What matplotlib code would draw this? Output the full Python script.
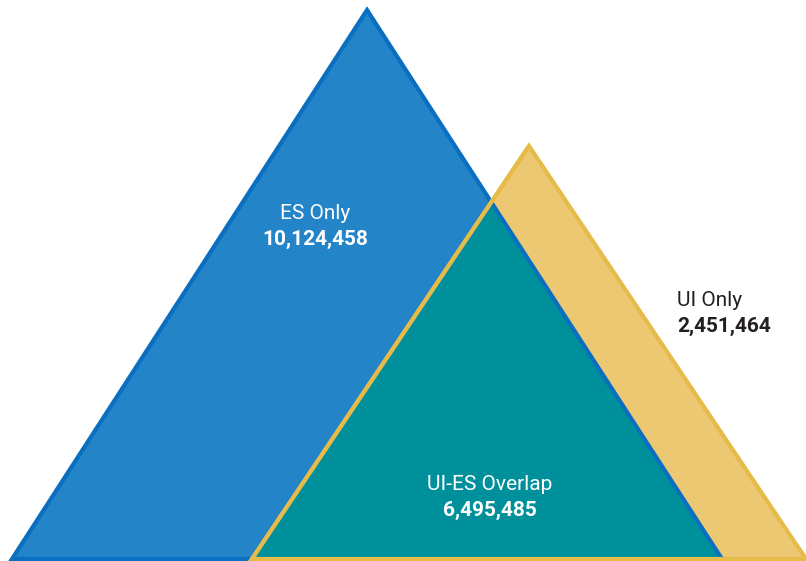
import matplotlib
matplotlib.use("Agg")
import matplotlib.pyplot as plt
from matplotlib.patches import Polygon
from matplotlib import font_manager

# Data
categories = ["ES Only", "UI Only", "UI-ES Overlap"]
values = [10124458, 2451464, 6495485]

# Geometry (pixel space of the 806x561 canvas)
blue_tri = [(12, 559), (367, 10), (722, 559)]
gold_tri = [(252, 559), (529, 146), (806, 559)]

BLUE_FILL = "#2484c8"
BLUE_EDGE = "#0a6fc0"
GOLD_FILL = "#ecc872"
GOLD_EDGE = "#e6bb4a"
TEAL_FILL = "#00909c"

names = [f.name for f in font_manager.fontManager.ttflist]
fam = "Liberation Sans Narrow" if "Liberation Sans Narrow" in names else "Roboto"

def intersect(p1, p2, p3, p4):
    x1, y1 = p1; x2, y2 = p2; x3, y3 = p3; x4, y4 = p4
    d = (x1 - x2) * (y3 - y4) - (y1 - y2) * (x3 - x4)
    t = ((x1 - x3) * (y3 - y4) - (y1 - y3) * (x3 - x4)) / d
    return (x1 + t * (x2 - x1), y1 + t * (y2 - y1))

cross = intersect(blue_tri[1], blue_tri[2], gold_tri[0], gold_tri[1])
teal_tri = [gold_tri[0], cross, blue_tri[2]]

fig = plt.figure(figsize=(8.06, 5.61), dpi=100)
ax = fig.add_axes([0, 0, 1, 1])
ax.set_xlim(0, 806)
ax.set_ylim(561, 0)
ax.axis("off")

lw = 3.0
ax.add_patch(Polygon(blue_tri, closed=True, facecolor=BLUE_FILL, edgecolor=BLUE_EDGE,
                     linewidth=lw, joinstyle="miter", zorder=1))
ax.add_patch(Polygon(gold_tri, closed=True, facecolor=GOLD_FILL, edgecolor=GOLD_EDGE,
                     linewidth=lw, joinstyle="miter", zorder=2))
ax.add_patch(Polygon(teal_tri, closed=True, facecolor=TEAL_FILL, edgecolor="none", zorder=3))
# blue right edge over teal
ax.plot([cross[0], blue_tri[2][0]], [cross[1], blue_tri[2][1]], color=BLUE_EDGE,
        linewidth=lw, solid_capstyle="butt", zorder=4)
# gold left edge and base over teal
ax.plot([gold_tri[1][0], gold_tri[0][0], gold_tri[2][0]],
        [gold_tri[1][1], gold_tri[0][1], gold_tri[2][1]], color=GOLD_EDGE,
        linewidth=lw, solid_joinstyle="miter", solid_capstyle="butt", zorder=5)

fs = 15
def label(x, y, name, val, color, ha="center"):
    ax.text(x, y, name, ha=ha, va="center", fontsize=fs, color=color, family=fam, zorder=10)
    ax.text(x, y + 26, f"{val:,}", ha=ha, va="center", fontsize=fs, color=color,
            family=fam, fontweight="bold", zorder=10)

label(315, 213, categories[0], values[0], "white")
label(677, 300, categories[1], values[1], "#231f20", ha="left")
label(490, 484, categories[2], values[2], "white")

fig.savefig("out.png", dpi=100)
